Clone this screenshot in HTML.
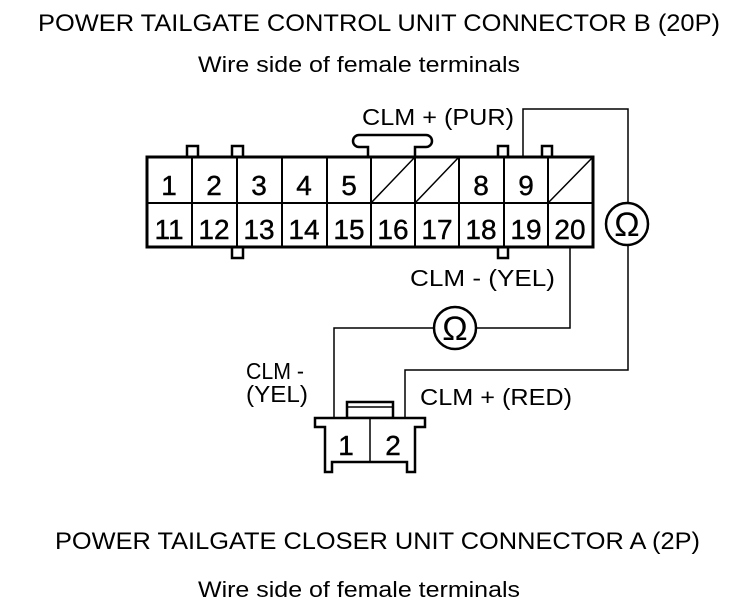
<!DOCTYPE html>
<html><head><meta charset="utf-8"><style>
html,body{margin:0;padding:0;background:#fff;}
svg{display:block;}
text{font-family:"Liberation Sans",Arial,sans-serif;fill:#000;}
</style></head><body>
<svg width="752" height="608" viewBox="0 0 752 608" xmlns="http://www.w3.org/2000/svg">
<text x="38" y="31" font-size="24" textLength="682" lengthAdjust="spacingAndGlyphs">POWER TAILGATE CONTROL UNIT CONNECTOR B (20P)</text>
<text x="198" y="72" font-size="22" textLength="322" lengthAdjust="spacingAndGlyphs">Wire side of female terminals</text>
<text x="55" y="549" font-size="24" textLength="645" lengthAdjust="spacingAndGlyphs">POWER TAILGATE CLOSER UNIT CONNECTOR A (2P)</text>
<text x="198" y="597" font-size="22" textLength="322" lengthAdjust="spacingAndGlyphs">Wire side of female terminals</text>

<g fill="none" stroke="#000">
<rect x="187" y="146" width="11" height="11" stroke-width="2.5"/>
<rect x="232" y="146" width="11" height="11" stroke-width="2.5"/>
<rect x="498" y="146" width="10" height="11" stroke-width="2.5"/>
<rect x="542" y="146" width="10" height="11" stroke-width="2.5"/>
<rect x="232" y="247" width="11" height="11" stroke-width="2.5"/>
<rect x="498" y="247" width="10" height="11" stroke-width="2.5"/>
<path d="M368,158 V147 H359 a6,6 0 0 1 0,-12 H426 a6,6 0 0 1 0,12 H415 V158" stroke-width="2.5" fill="#fff"/>
<rect x="147" y="157" width="446" height="90" stroke-width="3" fill="#fff"/>
<line x1="147" y1="203" x2="593" y2="203" stroke-width="2"/>
<path d="M192,157V247 M237,157V247 M282,157V247 M327,157V247 M371,157V247 M415,157V247 M459,157V247 M504,157V247 M548,157V247" stroke-width="2"/>
<path d="M371,203 L415,157 M415,203 L459,157 M548,203 L593,157" stroke-width="1.5"/>
<path d="M523,157 V109 H628 V203" stroke-width="1.5"/>
<path d="M628,245 V370 H405 V418" stroke-width="1.5"/>
<path d="M570,247 V328 H476" stroke-width="1.5"/>
<path d="M434,328 H334 V418" stroke-width="1.5"/>
<circle cx="627" cy="224" r="21" stroke-width="2.5" fill="#fff"/>
<circle cx="455" cy="328" r="21" stroke-width="2.5" fill="#fff"/>
<rect x="347" y="402" width="46" height="16" stroke-width="2.5" fill="#fff"/>
<line x1="347" y1="407" x2="393" y2="407" stroke-width="1.5"/>
<path d="M315,427 V418 H425 V427 H415 V472 H407 V462 H332 V472 H325 V427 Z" stroke-width="2.5" fill="#fff"/>
<line x1="370" y1="418" x2="370" y2="462" stroke-width="1.5"/>
</g>

<g font-size="28" stroke="#000" stroke-width="0.4">
<text x="169" y="195" text-anchor="middle">1</text>
<text x="214" y="195" text-anchor="middle">2</text>
<text x="259" y="195" text-anchor="middle">3</text>
<text x="304" y="195" text-anchor="middle">4</text>
<text x="349" y="195" text-anchor="middle">5</text>
<text x="481" y="195" text-anchor="middle">8</text>
<text x="526" y="195" text-anchor="middle">9</text>
<text x="169" y="239" text-anchor="middle">11</text>
<text x="214" y="239" text-anchor="middle">12</text>
<text x="259" y="239" text-anchor="middle">13</text>
<text x="304" y="239" text-anchor="middle">14</text>
<text x="349" y="239" text-anchor="middle">15</text>
<text x="393" y="239" text-anchor="middle">16</text>
<text x="437" y="239" text-anchor="middle">17</text>
<text x="481" y="239" text-anchor="middle">18</text>
<text x="526" y="239" text-anchor="middle">19</text>
<text x="570" y="239" text-anchor="middle">20</text>
<text x="346" y="455" text-anchor="middle">1</text>
<text x="393" y="455" text-anchor="middle">2</text>
</g>
<text x="627" y="236" font-size="34" text-anchor="middle">Ω</text>
<text x="455" y="340" font-size="34" text-anchor="middle">Ω</text>

<g font-size="23">
<text x="362" y="125" textLength="152" lengthAdjust="spacingAndGlyphs">CLM +  (PUR)</text>
<text x="410" y="286" textLength="145" lengthAdjust="spacingAndGlyphs">CLM -  (YEL)</text>
<text x="246" y="379" textLength="58" lengthAdjust="spacingAndGlyphs">CLM -</text>
<text x="246" y="402" textLength="62" lengthAdjust="spacingAndGlyphs">(YEL)</text>
<text x="420" y="405" textLength="152" lengthAdjust="spacingAndGlyphs">CLM +  (RED)</text>
</g>
</svg>
</body></html>
